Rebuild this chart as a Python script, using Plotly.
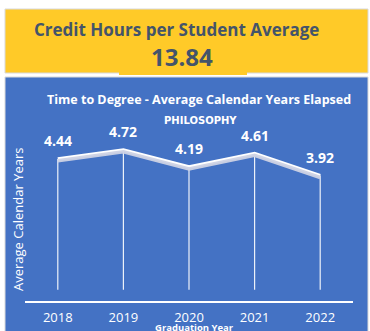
import plotly.graph_objects as go

# data
years = ["2018", "2019", "2020", "2021", "2022"]
avg_years = [4.44, 4.72, 4.19, 4.61, 3.92]
credit_hours_avg = 13.84
program = "PHILOSOPHY"

W, H = 370, 331
YELLOW = "#FFCA28"
BLUE = "#4472C4"
DARK = "#44546A"


def px_x(p):
    return p / W


def px_y(p):
    # pixel from top -> paper fraction from bottom
    return 1 - p / H


fig = go.Figure()

# drop lines from each point down toward the axis
drop_x, drop_y = [], []
for yr, v in zip(years, avg_years):
    drop_x += [yr, yr, None]
    drop_y += [0.35, v, None]
fig.add_trace(go.Scatter(
    x=drop_x, y=drop_y, mode="lines",
    line=dict(color="rgba(255,255,255,0.9)", width=1.2),
    hoverinfo="skip", showlegend=False,
))

# soft shadow under the line (same data on a slightly shifted axis)
fig.add_trace(go.Scatter(
    x=years, y=avg_years, mode="lines", yaxis="y2",
    line=dict(color="rgba(205,210,228,0.95)", width=3.5),
    hoverinfo="skip", showlegend=False,
))
fig.add_trace(go.Scatter(
    x=years, y=avg_years, mode="lines",
    line=dict(color="white", width=3.5),
    showlegend=False,
))

# value labels (category index for x, the axis is categorical)
for i, v in enumerate(avg_years):
    fig.add_annotation(
        x=i, y=v, text=f"{v:.2f}", showarrow=False, yshift=18,
        font=dict(family="Open Sans", size=14, color="white", weight="bold"),
    )

shapes = [
    # yellow KPI card
    dict(type="rect", xref="paper", yref="paper",
         x0=px_x(5), x1=px_x(368), y0=px_y(73), y1=px_y(9),
         fillcolor=YELLOW, line=dict(color="#D9D9D9", width=1), layer="below"),
    dict(type="rect", xref="paper", yref="paper",
         x0=px_x(119), x1=px_x(247), y0=px_y(75), y1=px_y(72),
         fillcolor=YELLOW, line=dict(width=0), layer="below"),
    # blue chart panel
    dict(type="rect", xref="paper", yref="paper",
         x0=px_x(5), x1=px_x(368), y0=px_y(H + 2), y1=px_y(77),
         fillcolor=BLUE, line=dict(color="#D9D9D9", width=1), layer="below"),
]

annotations = [
    dict(text="Credit Hours per Student Average", x=px_x(176), y=px_y(29),
         font=dict(family="Open Sans", size=17, color=DARK, weight="bold")),
    dict(text=f"{credit_hours_avg:.2f}", x=px_x(182), y=px_y(56),
         font=dict(family="Open Sans", size=24, color=DARK, weight="bold")),
    dict(text="Time to Degree - Average Calendar Years Elapsed",
         x=px_x(199), y=px_y(99),
         font=dict(family="Open Sans", size=12.5, color="white", weight="bold")),
    dict(text=program, x=px_x(200), y=px_y(121),
         font=dict(family="DejaVu Sans", size=10, color="white", weight="bold")),
    dict(text="Average Calendar Years", x=px_x(18), y=px_y(220), textangle=-90,
         font=dict(family="Open Sans", size=13, color="white")),
    dict(text="Graduation Year", x=px_x(194), y=px_y(327),
         font=dict(family="Open Sans", size=9.5, color="white", weight="bold")),
]
for a in annotations:
    a.update(xref="paper", yref="paper", showarrow=False,
             xanchor="center", yanchor="middle")

fig.update_layout(
    width=W, height=H,
    margin=dict(l=0, r=0, t=0, b=0),
    paper_bgcolor="white", plot_bgcolor="rgba(0,0,0,0)",
    shapes=shapes,
    xaxis=dict(
        domain=[px_x(25), px_x(353)],
        type="category", range=[-0.5, 4.5],
        showgrid=False, zeroline=False,
        showline=True, linecolor="white", linewidth=1.5,
        ticks="", ticklabelstandoff=4,
        tickfont=dict(family="Open Sans", size=13, color="white"),
        fixedrange=True,
    ),
    yaxis=dict(
        domain=[px_y(301), px_y(109)], range=[0, 6],
        showgrid=False, zeroline=False, showticklabels=False,
        fixedrange=True,
    ),
    yaxis2=dict(
        domain=[px_y(301), px_y(109)], range=[0.06, 6.06],
        overlaying="y", visible=False, fixedrange=True,
    ),
)
for a in annotations:
    fig.add_annotation(**a)

fig.write_html(
    "out.html",
    config={"displayModeBar": False},
    post_script="document.body.style.margin='0';document.body.style.overflow='hidden';",
)
